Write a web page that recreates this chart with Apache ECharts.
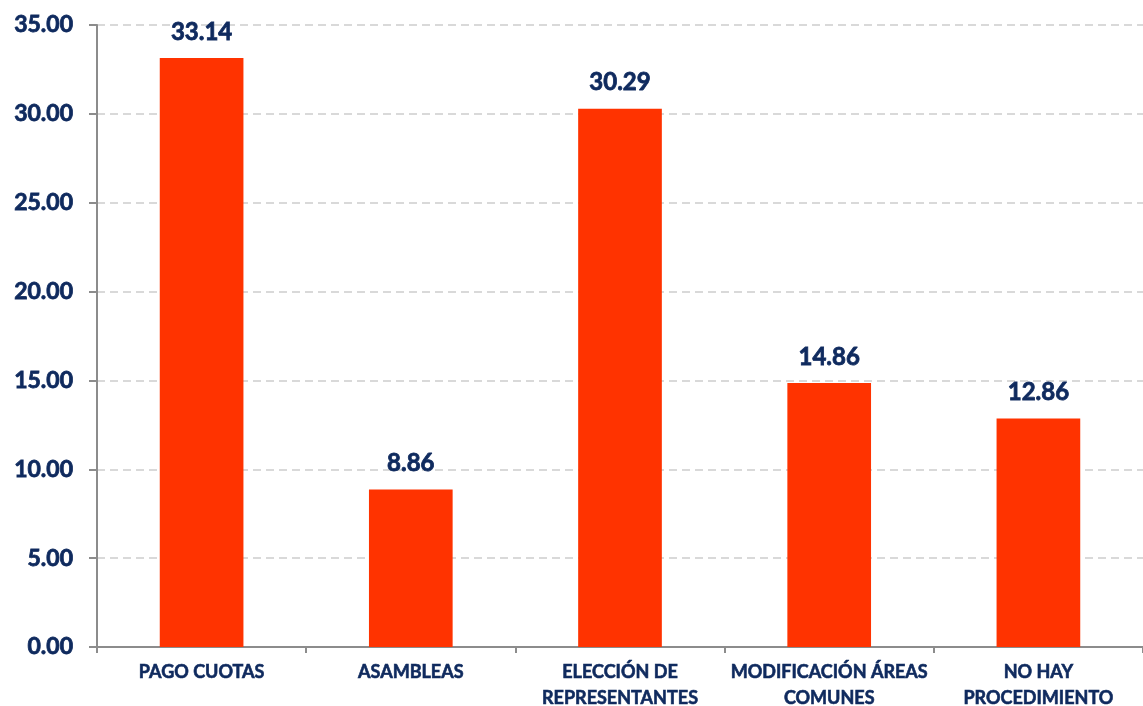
<!DOCTYPE html>
<html><head><meta charset="utf-8">
<script src="https://cdn.jsdelivr.net/npm/echarts@6/dist/echarts.min.js"></script>
<style>html,body{margin:0;padding:0;background:#fff}#c{width:1143px;height:706px}</style>
</head><body><div id="c"></div>
<script>
var categories = ['PAGO CUOTAS', 'ASAMBLEAS', 'ELECCIÓN DE\nREPRESENTANTES', 'MODIFICACIÓN ÁREAS\nCOMUNES', 'NO HAY\nPROCEDIMIENTO'];
var values = [33.14, 8.86, 30.29, 14.86, 12.86];
var navy = '#0f2a5e';
var chart = echarts.init(document.getElementById('c'));
chart.setOption({
  animation: false,
  grid: {left: 97, right: 0, top: 25, bottom: 59, containLabel: false, outerBoundsMode: 'none'},
  xAxis: {
    type: 'category', data: categories,
    axisLine: {lineStyle: {color: '#8c8c8c', width: 2}},
    axisTick: {show: true, length: 6, lineStyle: {color: '#8c8c8c', width: 2}},
    axisLabel: {color: navy, fontFamily: 'Lato', fontWeight: 'bold', fontSize: 18, lineHeight: 26, margin: 12, interval: 0,
      textBorderColor: navy, textBorderWidth: 0.6}
  },
  yAxis: {
    type: 'value', min: 0, max: 35, interval: 5,
    axisLine: {show: true, lineStyle: {color: '#8c8c8c', width: 2}},
    axisTick: {show: true, length: 8, lineStyle: {color: '#8c8c8c', width: 2}},
    splitLine: {lineStyle: {color: '#d9d9d9', type: [8, 5], width: 2}},
    axisLabel: {color: navy, fontFamily: 'Lato', fontWeight: 'bold', fontSize: 23, margin: 24,
      textBorderColor: navy, textBorderWidth: 0.8,
      formatter: function (v) { return v.toFixed(2); }}
  },
  series: [{
    type: 'bar', data: values, barWidth: '40%',
    itemStyle: {color: '#ff3300'},
    label: {show: true, position: 'top', distance: 14, color: navy, fontFamily: 'Lato', fontWeight: 'bold', fontSize: 24,
      textBorderColor: navy, textBorderWidth: 0.8,
      formatter: function (p) { return p.value.toFixed(2); }}
  }]
});
</script></body></html>
